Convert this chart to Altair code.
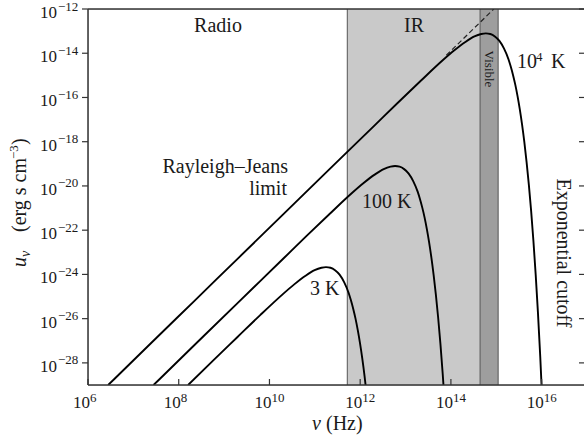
import altair as alt
import pandas as pd

# ---------------- data (log10 values) ----------------
curve_3K_lognu = [8.207, 8.796, 9.296, 9.796, 10.296, 10.546, 10.796, 10.996, 11.146, 11.246, 11.346,
                  11.446, 11.546, 11.646, 11.746, 11.796, 11.846, 11.896, 11.946, 11.996, 12.046, 12.096, 12.119]
curve_3K_logu = [-29.00, -27.82, -26.83, -25.84, -24.89, -24.45, -24.06, -23.81, -23.70, -23.67, -23.70,
                 -23.81, -24.01, -24.35, -24.84, -25.17, -25.55, -25.99, -26.51, -27.11, -27.80, -28.59, -29.00]

curve_100K_lognu = [7.445, 8.319, 9.319, 10.319, 10.819, 11.319, 11.819, 12.069, 12.319, 12.519, 12.669,
                    12.769, 12.869, 12.969, 13.069, 13.169, 13.269, 13.319, 13.369, 13.419, 13.469, 13.519,
                    13.569, 13.619, 13.669, 13.719, 13.769, 13.819, 13.836]
curve_100K_logu = [-29.00, -27.25, -25.25, -23.26, -22.26, -21.28, -20.32, -19.88, -19.49, -19.24, -19.13,
                   -19.10, -19.13, -19.24, -19.44, -19.78, -20.27, -20.60, -20.98, -21.42, -21.94, -22.54,
                   -23.23, -24.02, -24.93, -25.96, -27.14, -28.49, -29.00]

curve_1e4K_lognu = [6.445, 7.319, 8.319, 9.319, 10.319, 11.319, 12.319, 12.819, 13.319, 13.819, 14.069,
                    14.319, 14.519, 14.669, 14.769, 14.869, 14.969, 15.069, 15.169, 15.269, 15.319, 15.369,
                    15.419, 15.469, 15.519, 15.569, 15.619, 15.669, 15.719, 15.769, 15.819, 15.869, 15.919,
                    15.969, 15.998]
curve_1e4K_logu = [-29.00, -27.25, -25.25, -23.25, -21.25, -19.25, -17.26, -16.26, -15.28, -14.32, -13.88,
                   -13.49, -13.24, -13.13, -13.10, -13.13, -13.24, -13.44, -13.78, -14.27, -14.60, -14.98,
                   -15.42, -15.94, -16.54, -17.23, -18.02, -18.93, -19.96, -21.14, -22.49, -24.01, -25.74,
                   -27.70, -29.00]

rj_lognu = [13.9, 14.945]
rj_logu = [-14.09, -12.0]

band_names = ["IR", "Visible"]
band_start = [5.2e11, 4.4e14]
band_end = [4.4e14, 1.1e15]
band_colors = ["#c9c9c9", "#9e9e9e"]

x_tick_exps = [6, 8, 10, 12, 14, 16]
y_tick_exps = [-12, -14, -16, -18, -20, -22, -24, -26, -28]

# ---------------- frames ----------------
rows = []
for name, lx, ly in [("3K", curve_3K_lognu, curve_3K_logu),
                     ("100K", curve_100K_lognu, curve_100K_logu),
                     ("1e4K", curve_1e4K_lognu, curve_1e4K_logu)]:
    for a, b in zip(lx, ly):
        rows.append({"curve": name, "nu": 10.0 ** a, "u": 10.0 ** b})
curves = pd.DataFrame(rows)
rj = pd.DataFrame({"nu": [10.0 ** a for a in rj_lognu], "u": [10.0 ** b for b in rj_logu]})
bands = pd.DataFrame({"band": band_names, "start": band_start, "end": band_end, "color": band_colors})
xt = pd.DataFrame({"v": [10.0 ** e for e in x_tick_exps], "exp": [str(e) for e in x_tick_exps]})
yt = pd.DataFrame({"v": [10.0 ** e for e in y_tick_exps],
                   "exp": [("\u2212" + str(-e)) if e < 0 else str(e) for e in y_tick_exps]})

W, H = 496, 376
XMAX = 10.0 ** 16.934
xs = alt.Scale(type="log", domain=[1e6, XMAX], nice=False)
ys = alt.Scale(type="log", domain=[1e-29, 1e-12], nice=False)
FONT = "Liberation Serif"

def X(f="nu"):
    return alt.X(f + ":Q", scale=xs, axis=None)

def Y(f="u"):
    return alt.Y(f + ":Q", scale=ys, axis=None)

# shaded bands
band_rect = alt.Chart(bands).mark_rect().encode(
    x=X("start"), x2="end", y=alt.value(0), y2=alt.value(H),
    color=alt.Color("color:N", scale=None))
band_edges = alt.Chart(pd.DataFrame({"v": [band_start[0], band_start[1], band_end[1]]})).mark_rule(
    color="#555555", strokeWidth=1).encode(x=X("v"), y=alt.value(0), y2=alt.value(H))

lines = alt.Chart(curves).mark_line(color="black", strokeWidth=1.9, interpolate="monotone", clip=True).encode(
    x=X(), y=Y(), detail="curve:N")
dashed = alt.Chart(rj).mark_line(color="#222222", strokeWidth=1.2, strokeDash=[5, 3], clip=True).encode(
    x=X(), y=Y())

# frame
FR = dict(color="#333333", strokeWidth=1.5)
frame_left = alt.Chart().mark_rule(**FR).encode(x=alt.value(0), y=alt.value(0), y2=alt.value(H))
frame_bottom = alt.Chart().mark_rule(**FR).encode(x=alt.value(0), x2=alt.value(W), y=alt.value(H))
frame_top = alt.Chart().mark_rule(**FR).encode(x=alt.value(0), x2=alt.value(W), y=alt.value(0))

# ticks
TK = dict(color="#333333", strokeWidth=1.2)
xticks = alt.Chart(xt).mark_rule(**TK).encode(x=X("v"), y=alt.value(H), y2=alt.value(H - 6))
yticks = alt.Chart(yt).mark_rule(**TK).encode(y=Y("v"), x=alt.value(0), x2=alt.value(-6))
rticks = alt.Chart(yt).mark_rule(**TK).encode(y=Y("v"), x=alt.value(W), x2=alt.value(W - 5))

# tick labels
xlab10 = alt.Chart(xt).mark_text(font=FONT, fontSize=17, align="right", baseline="alphabetic", dx=2,
                                 color="#1a1a1a").encode(
    x=X("v"), y=alt.value(H + 23), text=alt.value("10"))
xlabexp = alt.Chart(xt).mark_text(font=FONT, fontSize=13, align="left", baseline="alphabetic", dx=2,
                                  color="#1a1a1a").encode(
    x=X("v"), y=alt.value(H + 17), text="exp:N")
ylab10 = alt.Chart(yt).mark_text(font=FONT, fontSize=17, align="right", baseline="middle", dy=4,
                                 color="#1a1a1a").encode(
    y=Y("v"), x=alt.value(-31), text=alt.value("10"))
ylabexp = alt.Chart(yt).mark_text(font=FONT, fontSize=13, align="left", baseline="middle", dy=-2.5,
                                  color="#1a1a1a").encode(
    y=Y("v"), x=alt.value(-30), text="exp:N")

def txt(s, x, y, size=20, align="left", baseline="alphabetic", angle=0, style="normal"):
    return alt.Chart().mark_text(font=FONT, fontSize=size, align=align, baseline=baseline, angle=angle,
                                 fontStyle=style, color="#1a1a1a").encode(
        x=alt.value(x), y=alt.value(y), text=alt.value(s))

annots = [
    txt("Radio", 130, 23, align="center"),
    txt("IR", 326, 23, align="center"),
    txt("Visible", 401, 60, size=13, align="center", baseline="middle", angle=90),
    txt("10", 429, 59),
    txt("4", 448, 52, size=13),
    txt("K", 463, 59),
    txt("Rayleigh\u2013Jeans", 200, 164, align="right"),
    txt("limit", 199, 186, align="right"),
    txt("100 K", 274, 199),
    txt("3 K", 222, 286),
    txt("Exponential cutoff", 475, 244, align="center", baseline="middle", angle=90),
    # x title
    txt("\u03bd", 224, 421, style="italic"),
    txt("(Hz)", 238, 421),
    # y title (rotated)
    txt("u", -62, 258, angle=270, style="italic"),
    txt("\u03bd", -58, 248, size=14, angle=270, style="italic"),
    txt("(erg s cm", -62, 223, angle=270),
    txt("\u22123", -70, 150, size=13, angle=270),
    txt(")", -62, 136, angle=270),
]

chart = alt.layer(
    band_rect, band_edges, lines, dashed,
    frame_left, frame_bottom, frame_top,
    xticks, yticks, rticks,
    xlab10, xlabexp, ylab10, ylabexp,
    *annots
).properties(
    width=W, height=H,
    padding={"left": 88, "top": 9, "right": 0, "bottom": 56},
    autosize=alt.AutoSizeParams(type="none"),
).configure_view(stroke=None).configure(background="white")

chart.save("out.html", embed_options={"renderer": "svg", "actions": False})
